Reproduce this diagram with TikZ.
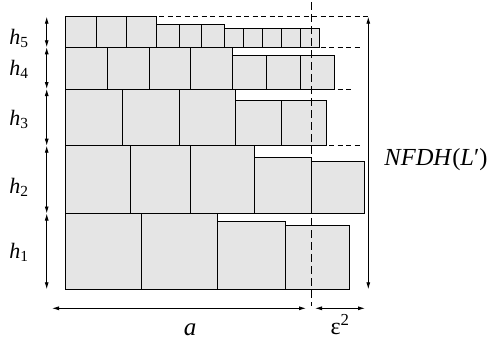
\documentclass[tikz,border=0pt]{standalone}
\usepackage{fontspec}
\setmainfont{Liberation Serif}
\usetikzlibrary{arrows.meta}
\begin{document}
\begin{tikzpicture}[x=1pt,y=-1pt,
  box/.style={draw=black,fill=gray!20,line width=0.9pt},
  guide/.style={draw=black,line width=0.75pt,dash pattern=on 5pt off 3.5pt},
  vguide/.style={draw=black,line width=0.85pt,dash pattern=on 8pt off 4pt},
  dim/.style={draw=black,line width=0.85pt,{Latex[length=7pt,width=4pt]}-{Latex[length=7pt,width=4pt]}},
  lbl/.style={inner sep=0pt,font=\fontsize{22}{24}\selectfont}]
\useasboundingbox (0,0) rectangle (490,349);
% row 5
\foreach \xa/\xb/\t in {65.7/96.3/16.7,96.3/126.3/16.7,126.3/156.7/16.7,
  156.7/179.3/24.3,179.3/201.7/24.3,201.7/224.3/24.3,
  224.3/243.7/28.7,243.7/262.7/28.7,262.7/281.7/28.7,281.7/300.7/28.7,300.7/319.3/28.7}
  \draw[box] (\xa,\t) rectangle (\xb,47.3);
% row 4
\foreach \xa/\xb/\t in {65.7/107.3/47.3,107.3/149/47.3,149/190/47.3,190/232.3/47.3,
  232.3/266/55,266/300.7/55,300.7/334.3/55}
  \draw[box] (\xa,\t) rectangle (\xb,89);
% row 3
\foreach \xa/\xb/\t in {65.7/122.3/89,122.3/179.3/89,179.3/235.7/89,
  235.7/281.7/100.3,281.7/326.7/100.3}
  \draw[box] (\xa,\t) rectangle (\xb,145.7);
% row 2
\foreach \xa/\xb/\t in {65.7/130/145.7,130/190.3/145.7,190.3/254.7/145.7,
  254.7/311.3/157,311.3/364.7/161}
  \draw[box] (\xa,\t) rectangle (\xb,213.5);
% row 1
\foreach \xa/\xb/\t in {65.7/141.3/213.5,141.3/217/213.5,
  217/285/221.3,285/349.3/225.3}
  \draw[box] (\xa,\t) rectangle (\xb,289.3);
% dashed level lines
\draw[guide] (65.7,16.7) -- (368.3,16.7);
\draw[guide] (65.7,47.3) -- (361.7,47.3);
\draw[guide] (65.7,89) -- (353.3,89);
\draw[guide] (65.7,145.7) -- (360,145.7);
\draw[guide] (65.7,213.5) -- (364.7,213.5);
% vertical dashed line
\coordinate (vt) at (311.7,2);
\coordinate (vb) at (311.7,306);
\draw[vguide] (vt) -- (vb);
% left height arrows
\coordinate (l0) at (46.7,16.7);
\coordinate (l1) at (46.7,47.3);
\coordinate (l2) at (46.7,89);
\coordinate (l3) at (46.7,145.7);
\coordinate (l4) at (46.7,213.5);
\coordinate (l5) at (46.7,289.3);
\draw[dim] (l0) -- (l1);
\draw[dim] (l1) -- (l2);
\draw[dim] (l2) -- (l3);
\draw[dim] (l3) -- (l4);
\draw[dim] (l4) -- (l5);
\node[lbl] (h5) at (19,38) {\textit{h}\textsubscript{5}};
\node[lbl] (h4) at (19,69) {\textit{h}\textsubscript{4}};
\node[lbl] (h3) at (19,119) {\textit{h}\textsubscript{3}};
\node[lbl] (h2) at (19,187) {\textit{h}\textsubscript{2}};
\node[lbl] (h1) at (19,252) {\textit{h}\textsubscript{1}};
% right arrow
\coordinate (rt) at (368.3,16.7);
\coordinate (rb) at (368.3,289.3);
\draw[dim] (rt) -- (rb);
\node[lbl,font=\fontsize{24.5}{26}\selectfont] (nf) at (436,160) {\textit{NFDH}(\textit{L}′)};
% bottom arrows
\coordinate (al) at (52,308.3);
\coordinate (ar) at (306,308.3);
\coordinate (el) at (315,308.3);
\coordinate (er) at (365,308.3);
\draw[dim] (al) -- (ar);
\draw[dim] (el) -- (er);
\node[lbl,font=\fontsize{25}{27}\selectfont] (a) at (190,330) {\textit{a}};
\node[lbl,font=\fontsize{24}{26}\selectfont] (eps) at (340,325) {ε\textsuperscript{2}};
\end{tikzpicture}
\end{document}
